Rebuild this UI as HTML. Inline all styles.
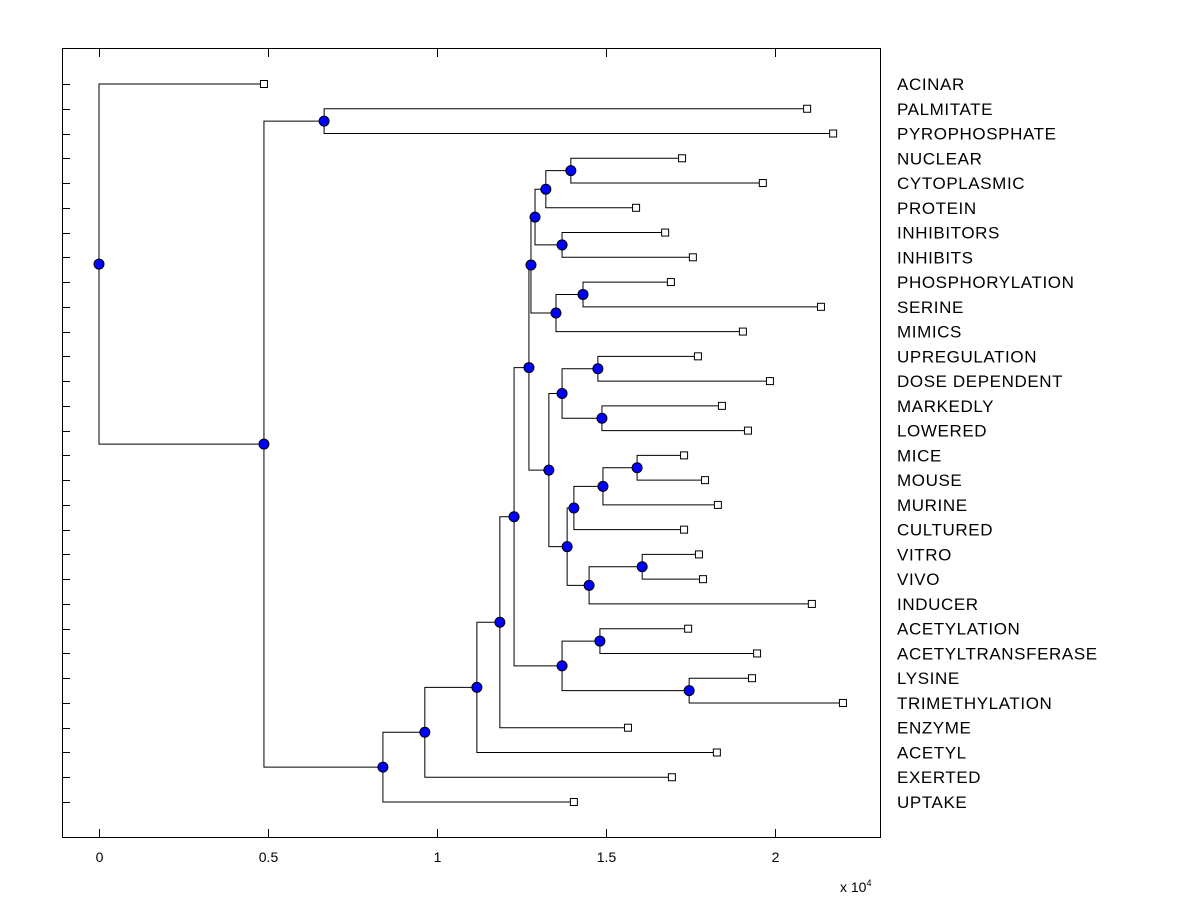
<!DOCTYPE html>
<html><head><meta charset="utf-8">
<style>
html,body{margin:0;padding:0;background:#fff;}
svg{display:block;font-family:"Liberation Sans",Arial,sans-serif;}
</style></head>
<body>
<svg id="chart" width="1200" height="900">
  <rect x="62.5" y="48.5" width="818" height="789" fill="#fff" stroke="#000" stroke-width="1"/>
  <g id="lines"></g>
  <g id="marks"></g>
  <g id="axis"></g>
  <text x="840" y="892" font-size="14">x 10<tspan dy="-6" font-size="9">4</tspan></text>
</svg>
<script>
// Leaves (top to bottom) and their heights (x 10^4)
const leafNames = ["ACINAR","PALMITATE","PYROPHOSPHATE","NUCLEAR","CYTOPLASMIC","PROTEIN","INHIBITORS","INHIBITS","PHOSPHORYLATION","SERINE","MIMICS","UPREGULATION","DOSE DEPENDENT","MARKEDLY","LOWERED","MICE","MOUSE","MURINE","CULTURED","VITRO","VIVO","INDUCER","ACETYLATION","ACETYLTRANSFERASE","LYSINE","TRIMETHYLATION","ENZYME","ACETYL","EXERTED","UPTAKE"];
const leafHeights = [0.488,2.095,2.172,1.725,1.964,1.589,1.675,1.757,1.692,2.136,1.905,1.772,1.985,1.843,1.920,1.731,1.793,1.831,1.731,1.775,1.787,2.109,1.743,1.947,1.932,2.201,1.565,1.828,1.695,1.405];
// Internal nodes
const nodeNames = ["root","A","P","B","C","D","E","F","G","H","I","J","K","M","O","R","Q","N","S","L","T","V","W","U","X","Z","AA","Y","AB"];
const nodeHeights = [0,0.488,0.666,0.840,0.964,1.118,1.186,1.228,1.272,1.370,1.482,1.746,1.278,1.290,1.322,1.396,1.370,1.352,1.432,1.331,1.370,1.476,1.488,1.385,1.405,1.491,1.592,1.450,1.607];
const nodeChildren = [
 ["ACINAR","A"],["P","B"],["PALMITATE","PYROPHOSPHATE"],["C","UPTAKE"],["D","EXERTED"],["E","ACETYL"],["F","ENZYME"],["G","H"],["K","L"],["I","J"],
 ["ACETYLATION","ACETYLTRANSFERASE"],["LYSINE","TRIMETHYLATION"],["M","N"],["O","Q"],["R","PROTEIN"],["NUCLEAR","CYTOPLASMIC"],["INHIBITORS","INHIBITS"],
 ["S","MIMICS"],["PHOSPHORYLATION","SERINE"],["T","U"],["V","W"],["UPREGULATION","DOSE DEPENDENT"],["MARKEDLY","LOWERED"],["X","Y"],["Z","CULTURED"],
 ["AA","MURINE"],["MICE","MOUSE"],["AB","INDUCER"],["VITRO","VIVO"]
];
const xTicks = [0,0.5,1,1.5,2];
const xTickLabels = ["0","0.5","1","1.5","2"];

const NS="http://www.w3.org/2000/svg";
const xScale = v => 99 + v*338;
const yScale = i => 84 + i*(802-84)/29;
function mk(tag, attrs, parent){const e=document.createElementNS(NS,tag);for(const k in attrs)e.setAttribute(k,attrs[k]);parent.appendChild(e);return e;}
const gL=document.getElementById('lines'), gM=document.getElementById('marks'), gA=document.getElementById('axis');

const pos={};
leafNames.forEach((n,i)=>{pos[n]={x:xScale(leafHeights[i]),y:yScale(i)};});
function getPos(n){
  if(pos[n])return pos[n];
  const i=nodeNames.indexOf(n);
  const ch=nodeChildren[i].map(getPos);
  pos[n]={x:xScale(nodeHeights[i]),y:(ch[0].y+ch[1].y)/2};
  return pos[n];
}
nodeNames.forEach(getPos);

nodeNames.forEach((n,i)=>{
  const p=pos[n];
  const ch=nodeChildren[i].map(c=>pos[c]);
  const path=mk('path',{d:`M${ch[0].x},${ch[0].y}H${p.x}V${ch[1].y}H${ch[1].x}`,fill:'none',stroke:'#000','stroke-width':1},gL);
  
  
});
nodeNames.forEach(n=>{
  const p=pos[n];
  const c=mk('circle',{cx:p.x,cy:p.y,r:5,fill:'#0000ff',stroke:'#000','stroke-width':1},gM);
  
  
});
leafNames.forEach((n,i)=>{
  const p=pos[n];
  const r=mk('rect',{x:p.x-3.5,y:p.y-3.5,width:7,height:7,fill:'#fff',stroke:'#000','stroke-width':1},gM);
  
  
  const t=mk('text',{x:897,y:p.y+6,'font-size':17,'letter-spacing':0.6},gA);
  t.textContent=n;
  
  
  const tk=mk('line',{x1:62,x2:70,y1:Math.round(p.y)+0.5,y2:Math.round(p.y)+0.5,stroke:'#000'},gA);
  
  
});
xTicks.forEach((v,i)=>{
  const x=Math.round(xScale(v))+0.5;
  const a=mk('line',{x1:x,x2:x,y1:837,y2:829,stroke:'#000'},gA);
  
  
  const b=mk('line',{x1:x,x2:x,y1:49,y2:57,stroke:'#000'},gA);
  
  
  const t=mk('text',{x:x,y:862,'font-size':14,'text-anchor':'middle'},gA);
  t.textContent=xTickLabels[i];
  
  
});
</script>
</body></html>
